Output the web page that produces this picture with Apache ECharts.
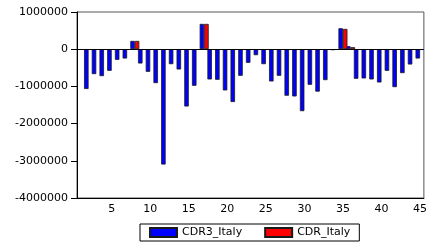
<!DOCTYPE html>
<html>
<head>
<meta charset="utf-8">
<script src="https://cdn.jsdelivr.net/npm/echarts@6/dist/echarts.min.js"></script>
<style>
  html, body { margin: 0; padding: 0; background: #fff; }
  #chart { width: 430px; height: 248px; }
</style>
</head>
<body>
<div id="chart"></div>
<script>
// observations 1..45
var categories = ['1','2','3','4','5','6','7','8','9','10','11','12','13','14','15',
  '16','17','18','19','20','21','22','23','24','25','26','27','28','29','30',
  '31','32','33','34','35','36','37','38','39','40','41','42','43','44','45']

var cdr3Italy = [null, -1070000, -670000, -724000, -581000, -286000, -250000, 223000,
  -384000, -608000, -912000, -3100000, -402000, -545000, -1540000, -983000, 680000,
  -813000, -822000, -1108000, -1420000, -715000, -366000, -161000, -402000, -867000,
  -715000, -1250000, -1270000, -1665000, -956000, -1140000, -831000, -25000, 563000,
  80000, -795000, -786000, -813000, -894000, -581000, -1020000, -643000, -411000, -250000]

var cdrItaly = [null, null, null, null, null, null, null, 223000,
  null, null, null, null, null, null, null, null, 680000,
  null, null, null, null, null, null, null, null, null,
  null, null, null, null, null, null, null, null, 545000,
  54000, null, null, null, null, null, null, null, null, null]

var yTicks = { min: -4000000, max: 1000000, step: 1000000 }

var font = 'DejaVu Sans'

var chart = echarts.init(document.getElementById('chart'))

chart.setOption({
  backgroundColor: '#FFFFFF',
  animation: false,
  textStyle: { fontFamily: font },
  grid: {
    left: 77,
    right: 4,
    top: 12,
    bottom: 50,
    show: true,
    borderColor: '#555',
    borderWidth: 1
  },
  legend: {
    left: 140,
    top: 224,
    itemWidth: 27,
    itemHeight: 9,
    itemGap: 22,
    padding: [3, 9],
    borderColor: '#000',
    borderWidth: 1,
    borderRadius: 0,
    textStyle: { fontFamily: font, fontSize: 11, color: '#000' },
    data: [
      { name: 'CDR3_Italy', icon: 'rect' },
      { name: 'CDR_Italy', icon: 'rect' }
    ]
  },
  xAxis: {
    type: 'category',
    data: categories,
    axisLine: { onZero: false, lineStyle: { color: '#000', width: 1 } },
    axisTick: { alignWithLabel: true, interval: 0, length: 3, lineStyle: { color: '#000' } },
    axisLabel: {
      color: '#000',
      fontSize: 11,
      margin: 6,
      interval: function (i) { return (i + 1) % 5 === 0 }
    },
    splitLine: { show: false }
  },
  yAxis: {
    type: 'value',
    min: yTicks.min,
    max: yTicks.max,
    interval: yTicks.step,
    axisLine: { show: true, lineStyle: { color: '#000', width: 1 } },
    axisTick: { show: true, length: 6, lineStyle: { color: '#000' } },
    axisLabel: {
      color: '#000',
      fontSize: 11,
      margin: 9,
      formatter: function (v) { return String(v) }
    },
    splitLine: { show: false }
  },
  series: [
    {
      name: 'CDR3_Italy',
      type: 'bar',
      data: cdr3Italy,
      barWidth: 4.5,
      barGap: '0%',
      itemStyle: { color: '#0000FF', borderColor: '#1a1a1a', borderWidth: 0.8 },
      markLine: {
        silent: true,
        symbol: ['none', 'none'],
        label: { show: false },
        lineStyle: { color: '#000', width: 1, type: 'solid' },
        data: [{ yAxis: 0 }]
      }
    },
    {
      name: 'CDR_Italy',
      type: 'bar',
      data: cdrItaly,
      barWidth: 4.5,
      barGap: '0%',
      itemStyle: { color: '#FF0000', borderColor: '#1a1a1a', borderWidth: 0.8 }
    }
  ]
})
</script>
</body>
</html>
